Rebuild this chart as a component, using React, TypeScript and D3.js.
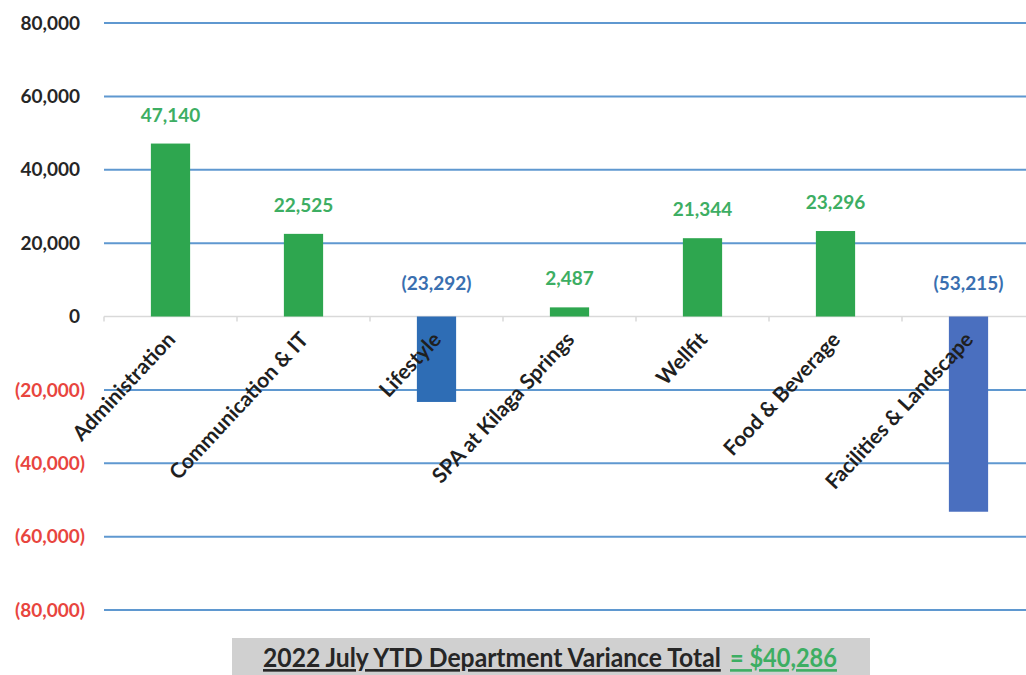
import React, { useLayoutEffect, useRef, useState } from "react";
import * as d3 from "d3";

const categories = [
  "Administration",
  "Communication & IT",
  "Lifestyle",
  "SPA at Kilaga Springs",
  "Wellfit",
  "Food & Beverage",
  "Facilities & Landscape",
];
const variances = [47140, 22525, -23292, 2487, 21344, 23296, -53215];
const barColors = ["#2ea64f", "#2ea64f", "#2e6db5", "#2ea64f", "#2ea64f", "#2ea64f", "#4a6fbf"];
const yTicks = [80000, 60000, 40000, 20000, 0, -20000, -40000, -60000, -80000];
const titleText = "2022 July YTD Department Variance Total";
const totalText = "= $40,286";

const W = 1026;
const H = 675;

function FitText(props: {
  x: number;
  y: number;
  width: number;
  fill: string;
  size: number;
  children: string;
}) {
  const ref = useRef<SVGTextElement>(null);
  const [sx, setSx] = useState(1);
  useLayoutEffect(() => {
    if (ref.current) {
      const w = ref.current.getComputedTextLength();
      if (w > 0) setSx(props.width / w);
    }
  }, [props.width, props.children]);
  return (
    <text
      ref={ref}
      transform={`translate(${props.x},${props.y}) scale(${sx},1)`}
      fontFamily="Lato"
      fontWeight={700}
      fontSize={props.size}
      fill={props.fill}
      style={{ textDecoration: "underline" }}
    >
      {props.children}
    </text>
  );
}

export default function App() {
  const x = d3.scaleBand<string>().domain(categories).range([104, 1035]).padding(0);
  const y = d3.scaleLinear().domain([-80000, 80000]).range([610, 23]);
  const bw = x.bandwidth() * 0.295;
  const fmt = d3.format(",");
  const fmtNum = (v: number) => (v < 0 ? `(${fmt(-v)})` : fmt(v));

  return (
    <div style={{ position: "absolute", left: 0, top: 0 }}>
      <svg width={W} height={H} style={{ display: "block", background: "#fff" }}>
        {/* gridlines */}
        {yTicks.filter((t) => t !== 0).map((t) => (
          <line key={t} x1={104} x2={W} y1={y(t)} y2={y(t)} stroke="#5f98d0" strokeWidth={2} />
        ))}
        {/* zero line and ticks */}
        <line x1={104} x2={W} y1={y(0)} y2={y(0)} stroke="#d9d9d9" strokeWidth={1.5} />
        {categories.map((c) => (
          <line key={c} x1={x(c)!} x2={x(c)!} y1={y(0)} y2={y(0) + 5} stroke="#d9d9d9" strokeWidth={1.5} />
        ))}
        {/* y axis labels */}
        {yTicks.map((t) => (
          <text
            key={t}
            x={t < 0 ? 85 : 80}
            y={y(t)}
            dy="0.35em"
            textAnchor="end"
            fontFamily="Lato"
            fontWeight={700}
            fontSize={19}
            fill={t < 0 ? "#e8453e" : "#262626"}
          >
            {fmtNum(t)}
          </text>
        ))}
        {/* bars */}
        {categories.map((c, i) => {
          const v = variances[i];
          const cx = x(c)! + x.bandwidth() / 2;
          return (
            <rect
              key={c}
              x={cx - bw / 2}
              width={bw}
              y={Math.min(y(v), y(0))}
              height={Math.abs(y(v) - y(0))}
              fill={barColors[i]}
            />
          );
        })}
        {/* category labels */}
        {categories.map((c) => {
          const cx = x(c)! + x.bandwidth() / 2 + 6;
          const cy = y(0) + 24;
          return (
            <text
              key={c}
              transform={`translate(${cx},${cy}) rotate(-47)`}
              textAnchor="end"
              fontFamily="Lato"
              fontWeight={700}
              fontSize={21}
              fill="#1f1f1f"
            >
              {c}
            </text>
          );
        })}
        {/* data labels */}
        {categories.map((c, i) => {
          const v = variances[i];
          const cx = x(c)! + x.bandwidth() / 2;
          const ly = v >= 0 ? y(v) - 22 : y(0) - 27;
          return (
            <text
              key={c}
              x={cx}
              y={ly}
              textAnchor="middle"
              fontFamily="Lato"
              fontWeight={700}
              fontSize={19}
              fill={v >= 0 ? "#3dae63" : "#3a6fb0"}
            >
              {fmtNum(v)}
            </text>
          );
        })}
        {/* title box */}
        <rect x={232} y={638} width={638} height={40} fill="#d0d0d0" />
        <FitText x={263} y={667} width={458} fill="#262626" size={26}>
          {titleText}
        </FitText>
        <FitText x={730} y={667} width={107} fill="#3dae63" size={26}>
          {totalText}
        </FitText>
      </svg>
    </div>
  );
}
